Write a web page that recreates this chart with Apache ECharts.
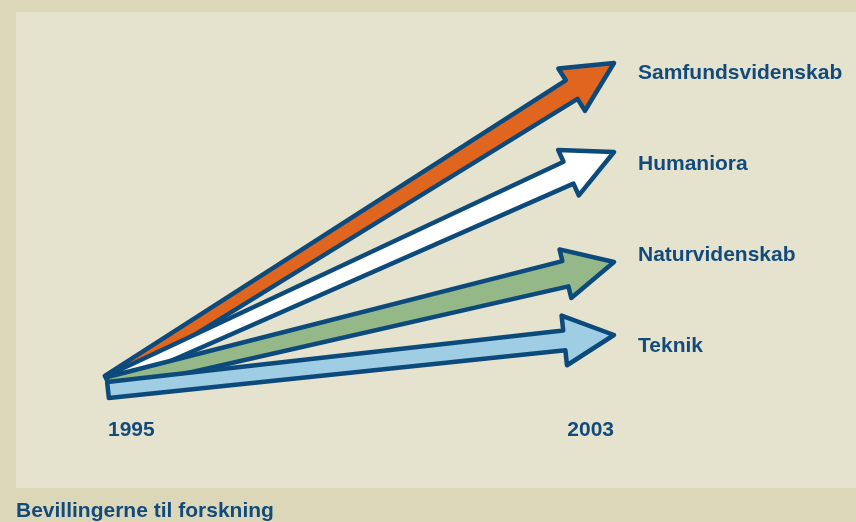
<!DOCTYPE html>
<html>
<head>
<meta charset="utf-8">
<script src="https://cdn.jsdelivr.net/npm/echarts@6/dist/echarts.min.js"></script>
<style>
  html, body { margin: 0; padding: 0; background: #dcd7b8; }
  #chart { width: 856px; height: 522px; }
</style>
</head>
<body>
<div id="chart"></div>
<script>
// index, 1995 = about 100
var years = [1995, 2003]
var names = ['Samfundsvidenskab', 'Humaniora', 'Naturvidenskab', 'Teknik']
var start1995 = [100.5, 100.25, 99.75, 98.25]
var end2003 = [180, 157.75, 130.25, 112]

var fills = ['#e0661f', '#ffffff', '#95b888', '#9fcde4']
var tailWidth = [6, 6, 7, 8]
var neckWidth = [11, 12, 13, 10]
var ink = '#0c4a7c'
var textBlue = '#124b7b'
var font = '"Liberation Sans", Arial, sans-serif'

var chart = echarts.init(document.getElementById('chart'))

function arrow (idx) {
  return function (params, api) {
    var s = api.coord([api.value(0), api.value(1)])
    var t = api.coord([api.value(2), api.value(3)])
    var dx = t[0] - s[0]
    var dy = t[1] - s[1]
    var len = Math.sqrt(dx * dx + dy * dy)
    var ux = dx / len
    var uy = dy / len
    var nx = -uy
    var ny = ux
    var headLen = 50
    var headHalf = 25
    var b = [t[0] - ux * headLen, t[1] - uy * headLen]
    var w0 = tailWidth[idx]
    var w1 = neckWidth[idx]
    var pts = [
      [s[0] + nx * w0, s[1] + ny * w0],
      [b[0] + nx * w1, b[1] + ny * w1],
      [b[0] + nx * headHalf, b[1] + ny * headHalf],
      t,
      [b[0] - nx * headHalf, b[1] - ny * headHalf],
      [b[0] - nx * w1, b[1] - ny * w1],
      [s[0] - nx * w0, s[1] - ny * w0]
    ]
    return {
      type: 'polygon',
      shape: { points: pts },
      style: {
        fill: fills[idx],
        stroke: ink,
        lineWidth: 4.5,
        lineJoin: 'round'
      }
    }
  }
}

var series = names.map(function (name, i) {
  return {
    name: name,
    type: 'custom',
    clip: false,
    z: 2 + i,
    encode: { x: [0, 2], y: [1, 3] },
    data: [[years[0], start1995[i], years[1], end2003[i]]],
    renderItem: arrow(i)
  }
})

chart.setOption({
  backgroundColor: '#dcd7b8',
  animation: false,
  textStyle: { fontFamily: font },
  graphic: [{
    type: 'rect',
    z: -10,
    silent: true,
    shape: { x: 16, y: 12, width: 840, height: 476 },
    style: { fill: '#e5e2ce' }
  }],
  title: {
    text: 'Bevillingerne til forskning',
    left: 11,
    top: 496,
    textStyle: { color: textBlue, fontSize: 21, fontWeight: 'bold', fontFamily: font }
  },
  legend: {
    orient: 'vertical',
    left: 628,
    top: 58,
    itemGap: 70,
    itemWidth: 0,
    itemHeight: 14,
    icon: 'none',
    selectedMode: false,
    data: names,
    textStyle: { color: textBlue, fontSize: 21, fontWeight: 'bold', fontFamily: font }
  },
  grid: {
    left: 108,
    right: 242,
    top: 23,
    bottom: 103
  },
  xAxis: {
    type: 'value',
    min: years[0],
    max: years[1],
    interval: years[1] - years[0],
    axisLine: { show: false },
    axisTick: { show: false },
    splitLine: { show: false },
    axisLabel: {
      margin: 1,
      color: textBlue,
      fontSize: 21,
      fontWeight: 'bold',
      fontFamily: font,
      formatter: function (v) { return String(v) },
      alignMinLabel: 'left',
      alignMaxLabel: 'right'
    }
  },
  yAxis: {
    type: 'value',
    min: 91,
    max: 190,
    show: false
  },
  series: series
})
</script>
</body>
</html>
